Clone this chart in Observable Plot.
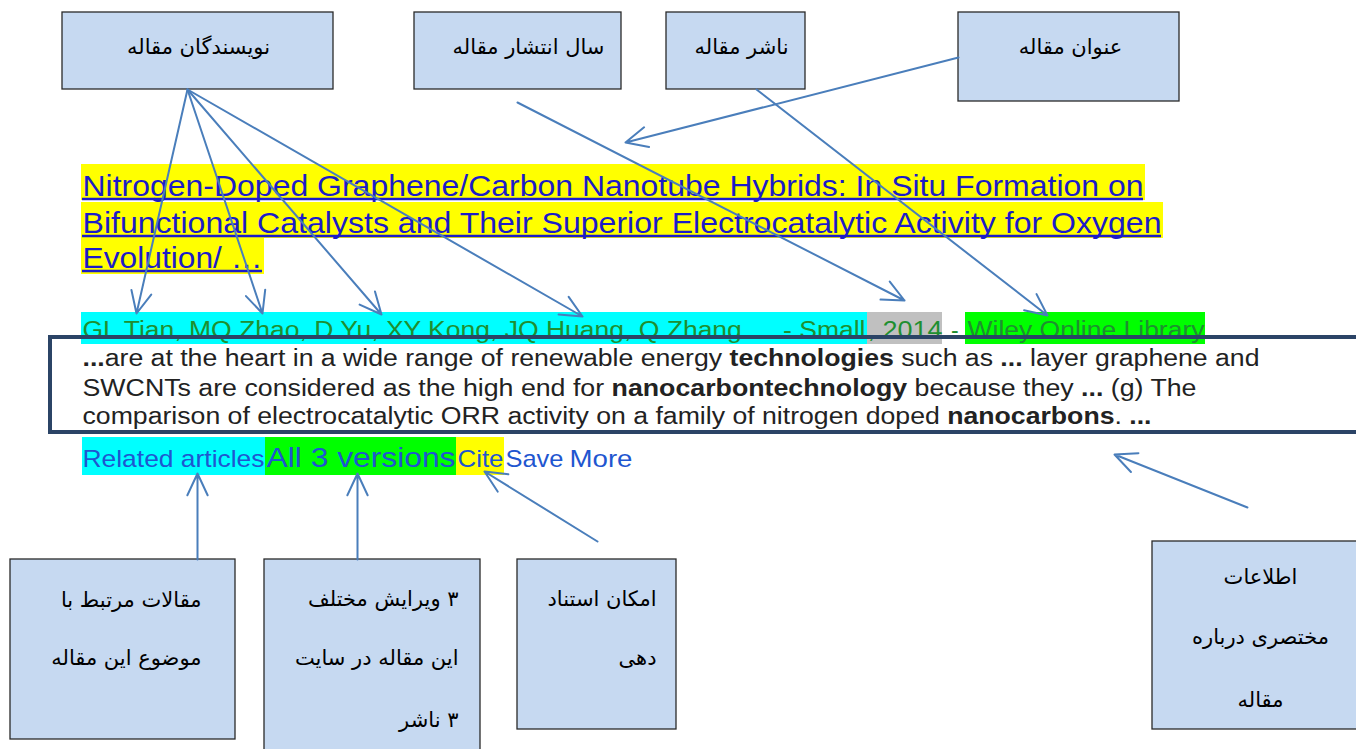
<!DOCTYPE html>
<html><head><meta charset="utf-8">
<script src="https://cdn.jsdelivr.net/npm/d3@7"></script>
<script src="https://cdn.jsdelivr.net/npm/@observablehq/plot@0.6"></script>
<style>html,body{margin:0;padding:0;background:#fff;overflow:hidden}</style>
</head><body><div id="chart"></div>
<script>
// ---- text content ----
const topLabels = ["نویسندگان مقاله", "سال انتشار مقاله", "ناشر مقاله", "عنوان مقاله"];
const titleLines = [
  "Nitrogen-Doped Graphene/Carbon Nanotube Hybrids: In Situ Formation on",
  "Bifunctional Catalysts and Their Superior Electrocatalytic Activity for Oxygen",
  "Evolution/ …"
];
const authorParts = ["GL Tian, MQ Zhao, D Yu, XY Kong, JQ Huang, Q Zhang…  - Small", ", 2014", " - ", "Wiley Online Library"];
const snippetLines = [
  "**...**are at the heart in a wide range of renewable energy **technologies** such as **...** layer graphene and",
  "SWCNTs are considered as the high end for **nanocarbontechnology** because they **...** (g) The",
  "comparison of electrocatalytic ORR activity on a family of nitrogen doped **nanocarbons**. **...**"
];
const linkParts = ["Related articles", "All 3 versions", "Cite", "Save", "More"];
const bottomLabels = [
  ["مقالات مرتبط با", "موضوع این مقاله"],
  ["۳ ویرایش مختلف", "این مقاله در سایت", "۳ ناشر"],
  ["امکان استناد", "دهی"],
  ["اطلاعات", "مختصری درباره", "مقاله"]
];

// ---- layout (pixel space of the diagram) ----
const W = 1356, H = 749;
const topBoxes = [[62, 333, 12, 89], [414, 621, 12, 89], [666, 805, 12, 89], [958, 1179, 12, 101]];
const topTextPos = [[198, 47], [528, 47], [741, 47], [1070, 47]];
const bottomBoxes = [[10, 235, 559, 739], [264, 480, 559, 770], [517, 676, 559, 729], [1152, 1370, 541, 729]];
const bottomTextPos = [
  {x: 201, ys: [600, 658]},
  {x: 458, ys: [599, 658, 720]},
  {x: 656, ys: [599, 658]},
  {x: 1260, ys: [577, 637, 700]}
];
const titleBase = [195, 232, 267];
const titleWidth = [1061, 1079, 180];
const titleHl = [[81, 1145, 164, 200], [81, 1163, 202, 238], [81, 264, 238, 274]];
const authorX = [82, 867, 944, 967];
const authorWidth = [783, 75, 0, 237];
const authorHl = [[81, 867, 312, 344, "#00ffff"], [867, 942, 312, 344, "#c0c0c0"], [965, 1205, 312, 344, "#00ff00"]];
const snippetBase = [365, 395, 423];
const snippetWidth = [1177, 1114, 1069];
const linkX = [82, 266, 457, 505, 569];
const linkWidth = [182, 189, 46, 58, 63];
const linkSize = [24, 28, 24, 24, 24];
const linkHl = [[82, 265, 437, 475, "#00ffff"], [265, 456, 437, 475, "#00ff00"], [456, 504, 437, 475, "#ffff00"]];
const arrows = [
  [187, 89, 136, 313], [187, 89, 262, 313], [187, 89, 381, 314], [187, 89, 582, 316],
  [517, 102, 904, 300], [756, 89, 1047, 315], [958, 57, 625, 142],
  [197, 559, 197, 473], [357, 559, 357, 473], [597, 541, 484, 471], [1247, 507, 1114, 454]
];

// ---- assemble mark data ----
const hl = [
  ...titleHl.map(([x1, x2, y1, y2]) => ({x1, x2, y1, y2, c: "#ffff00"})),
  ...authorHl.map(([x1, x2, y1, y2, c]) => ({x1, x2, y1, y2, c})),
  ...linkHl.map(([x1, x2, y1, y2, c]) => ({x1, x2, y1, y2, c}))
];
const underline = titleHl.map(([x1, x2], i) => ({x1: x1 + 1, x2: x1 + 1 + titleWidth[i], y: titleBase[i] + 3.5}));
const titleData = titleLines.map((t, i) => ({t, x: 82, y: titleBase[i]}));
const authorData = authorParts.map((t, i) => ({t, x: authorX[i], y: 337}));
const snippetData = snippetLines.map((t, i) => ({t, x: 82, y: snippetBase[i]}));
const linkData = linkParts.map((t, i) => ({t, x: linkX[i], y: 466, s: linkSize[i]}));
const boxData = [...topBoxes, ...bottomBoxes].map(([x1, x2, y1, y2]) => ({x1, x2, y1, y2}));
const topText = topLabels.map((t, i) => ({t: "\u200F" + t, x: topTextPos[i][0], y: topTextPos[i][1]}));
const bottomText = bottomLabels.flatMap((lines, b) =>
  lines.map((t, j) => ({t: "\u200F" + t, x: bottomTextPos[b].x, y: bottomTextPos[b].ys[j], b})));
const arrowData = arrows.map(([x1, y1, x2, y2]) => ({x1, y1, x2, y2}));

// target rendered widths, keyed by text
const fit = new Map();
titleLines.forEach((t, i) => fit.set(t, titleWidth[i]));
authorParts.forEach((t, i) => authorWidth[i] && fit.set(t, authorWidth[i]));
snippetLines.forEach((t, i) => fit.set(t, snippetWidth[i]));
linkParts.forEach((t, i) => fit.set(t, linkWidth[i]));

const sans = "Liberation Sans, Arial, sans-serif";
const arab = "DejaVu Sans, sans-serif";

const chart = Plot.plot({
  width: W, height: H, margin: 0,
  x: {domain: [0, W], range: [0, W], axis: null},
  y: {domain: [0, H], range: [0, H], axis: null},
  color: {type: "identity"},
  style: {background: "#fff", overflow: "visible"},
  marks: [
    Plot.rect(hl, {x1: "x1", x2: "x2", y1: "y1", y2: "y2", fill: "c"}),
    Plot.ruleY(underline, {y: "y", x1: "x1", x2: "x2", stroke: "#1c1cc8", strokeWidth: 2.5}),
    Plot.text(titleData, {x: "x", y: "y", text: "t", textAnchor: "start", lineAnchor: "bottom", fontSize: 29, fontFamily: sans, fill: "#1c1cc8"}),
    Plot.text(authorData, {x: "x", y: "y", text: "t", textAnchor: "start", lineAnchor: "bottom", fontSize: 23, fontFamily: sans, fill: "#1e8f30"}),
    Plot.text(snippetData, {x: "x", y: "y", text: "t", textAnchor: "start", lineAnchor: "bottom", fontSize: 23.5, fontFamily: sans, fill: "#222"}),
    Plot.text(linkData, {x: "x", y: "y", text: "t", textAnchor: "start", lineAnchor: "bottom", fontSize: "s", fontFamily: sans, fill: "#1f56d0"}),
    Plot.rect([{x1: 50, x2: 1380, y1: 337, y2: 432}], {x1: "x1", x2: "x2", y1: "y1", y2: "y2", fill: "none", stroke: "#2b4466", strokeWidth: 4}),
    Plot.rect(boxData, {x1: "x1", x2: "x2", y1: "y1", y2: "y2", fill: "#c6d9f1", stroke: "#2a2a2a", strokeWidth: 1.3}),
    Plot.text(topText, {x: "x", y: "y", text: "t", textAnchor: "middle", lineAnchor: "middle", fontSize: 21, fontFamily: arab, fill: "#000"}),
    Plot.text(bottomText.filter(d => d.b < 3), {x: "x", y: "y", text: "t", textAnchor: "end", lineAnchor: "middle", fontSize: 21, fontFamily: arab, fill: "#000"}),
    Plot.text(bottomText.filter(d => d.b === 3), {x: "x", y: "y", text: "t", textAnchor: "middle", lineAnchor: "middle", fontSize: 21, fontFamily: arab, fill: "#000"}),
    Plot.arrow(arrowData, {x1: "x1", y1: "y1", x2: "x2", y2: "y2", stroke: "#4a7ebb", strokeWidth: 2, headLength: 18, headAngle: 50})
  ]
});

// fit text widths to the reference and render bold runs (marked with **)
d3.select(chart).selectAll("text").each(function () {
  const el = d3.select(this);
  const raw = el.text();
  if (fit.has(raw)) el.attr("textLength", fit.get(raw)).attr("lengthAdjust", "spacingAndGlyphs");
  if (raw.includes("**")) {
    const parts = raw.split("**");
    el.text(null);
    parts.forEach((p, i) => { if (p) el.append("tspan").attr("font-weight", i % 2 ? "bold" : null).text(p); });
  }
});

document.getElementById("chart").appendChild(chart);
</script>
</body></html>
